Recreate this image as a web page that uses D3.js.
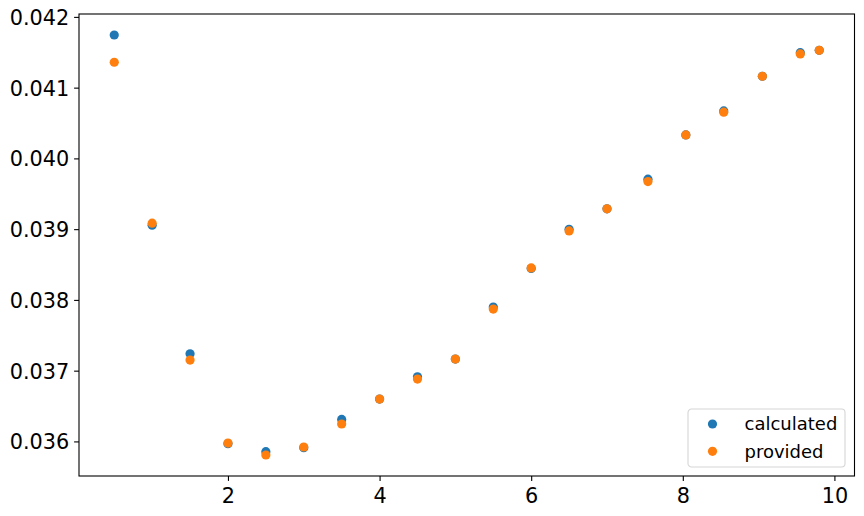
<html lang="en">
  <head>
    <meta charset="UTF-8" />
    <title>calculated vs provided</title>
    <script src="https://d3js.org/d3.v7.min.js"></script>
  </head>
  <style>
    body {
      margin: 0px;
      overflow: hidden;
      background: #fff;
    }
    text {
      font-family: "DejaVu Sans", sans-serif;
      fill: #000;
    }
  </style>
  <body>
    <svg width="864" height="516"></svg>
  </body>
  <footer>
    <script>
      // values
      var xValues = [0.5, 1, 1.5, 2, 2.5, 3, 3.5, 4, 4.5, 5, 5.5, 6, 6.5, 7, 7.54, 8.04, 8.54, 9.05, 9.55, 9.8];
      var calculated = [0.041744, 0.039056, 0.037239, 0.035968, 0.035855, 0.035911, 0.036311, 0.036599,
        0.036914, 0.037164, 0.037898, 0.038444, 0.038998, 0.039287, 0.039706, 0.040332, 0.040671,
        0.041161, 0.041494, 0.041528];
      var provided = [0.041359, 0.039085, 0.03715, 0.035977, 0.035808, 0.035921, 0.036246, 0.036599,
        0.036881, 0.037164, 0.03787, 0.038452, 0.038975, 0.039287, 0.039672, 0.040332, 0.040653,
        0.041161, 0.041476, 0.041528];
      var xTicks = [2, 4, 6, 8, 10];
      var yTicks = [0.036, 0.037, 0.038, 0.039, 0.04, 0.041, 0.042];
      var seriesNames = ["calculated", "provided"];
      var colors = ["#1f77b4", "#ff7f0e"];

      var svg = d3.select("svg");
      var margin = { top: 14, right: 9.5, bottom: 40, left: 79 };
      var width = +svg.attr("width") - margin.left - margin.right;
      var height = +svg.attr("height") - margin.top - margin.bottom;

      // matplotlib-style 5% padding around the data
      function padded(ext) {
        var m = (ext[1] - ext[0]) * 0.05;
        return [ext[0] - m, ext[1] + m];
      }
      var allY = calculated.concat(provided);

      var x = d3.scaleLinear().domain(padded(d3.extent(xValues))).range([0, width]);
      var y = d3.scaleLinear().domain(padded(d3.extent(allY))).range([height, 0]);

      var g = svg.append("g").attr("transform", `translate(${margin.left}, ${margin.top})`);

      var xAxis = g.append("g")
        .attr("transform", `translate(0, ${height})`)
        .call(d3.axisBottom(x).tickValues(xTicks).tickFormat(d3.format("d")).tickSize(4.9).tickPadding(6.5).tickSizeOuter(0));
      var yAxis = g.append("g")
        .call(d3.axisLeft(y).tickValues(yTicks).tickFormat(d3.format(".3f")).tickSize(4.9).tickPadding(4.9).tickSizeOuter(0));

      [xAxis, yAxis].forEach(function (a) {
        a.select(".domain").remove();
        a.selectAll(".tick line").attr("stroke", "#000").attr("stroke-width", 1.1);
        a.selectAll(".tick text").style("font-size", "20.8px").attr("fill", "#000");
      });
      yAxis.selectAll(".tick text").attr("dy", "0.36em");
      xAxis.selectAll(".tick text").attr("dy", "0.76em");

      var series = [calculated, provided];
      series.forEach(function (vals, i) {
        g.append("g")
          .selectAll("circle")
          .data(vals)
          .enter()
          .append("circle")
          .attr("cx", function (d, j) { return x(xValues[j]); })
          .attr("cy", function (d) { return y(d); })
          .attr("r", 4.6)
          .attr("fill", colors[i]);
      });

      // frame
      g.append("rect")
        .attr("width", width)
        .attr("height", height)
        .attr("fill", "none")
        .attr("stroke", "#000")
        .attr("stroke-width", 1.1);

      // legend
      var lg = svg.append("g").attr("transform", "translate(688, 409)");
      lg.append("rect")
        .attr("width", 157)
        .attr("height", 58)
        .attr("rx", 3.5)
        .attr("fill", "#fff")
        .attr("fill-opacity", 0.8)
        .attr("stroke", "#d6d6d6")
        .attr("stroke-width", 1.1);
      seriesNames.forEach(function (name, i) {
        var row = lg.append("g").attr("transform", `translate(0, ${15 + i * 27.3})`);
        row.append("circle").attr("cx", 24.5).attr("cy", 0).attr("r", 4.6).attr("fill", colors[i]);
        row.append("text")
          .attr("x", 56.5)
          .attr("y", 0)
          .attr("dy", "0.36em")
          .style("font-size", "18px")
          .text(name);
      });
    </script>
  </footer>
</html>
